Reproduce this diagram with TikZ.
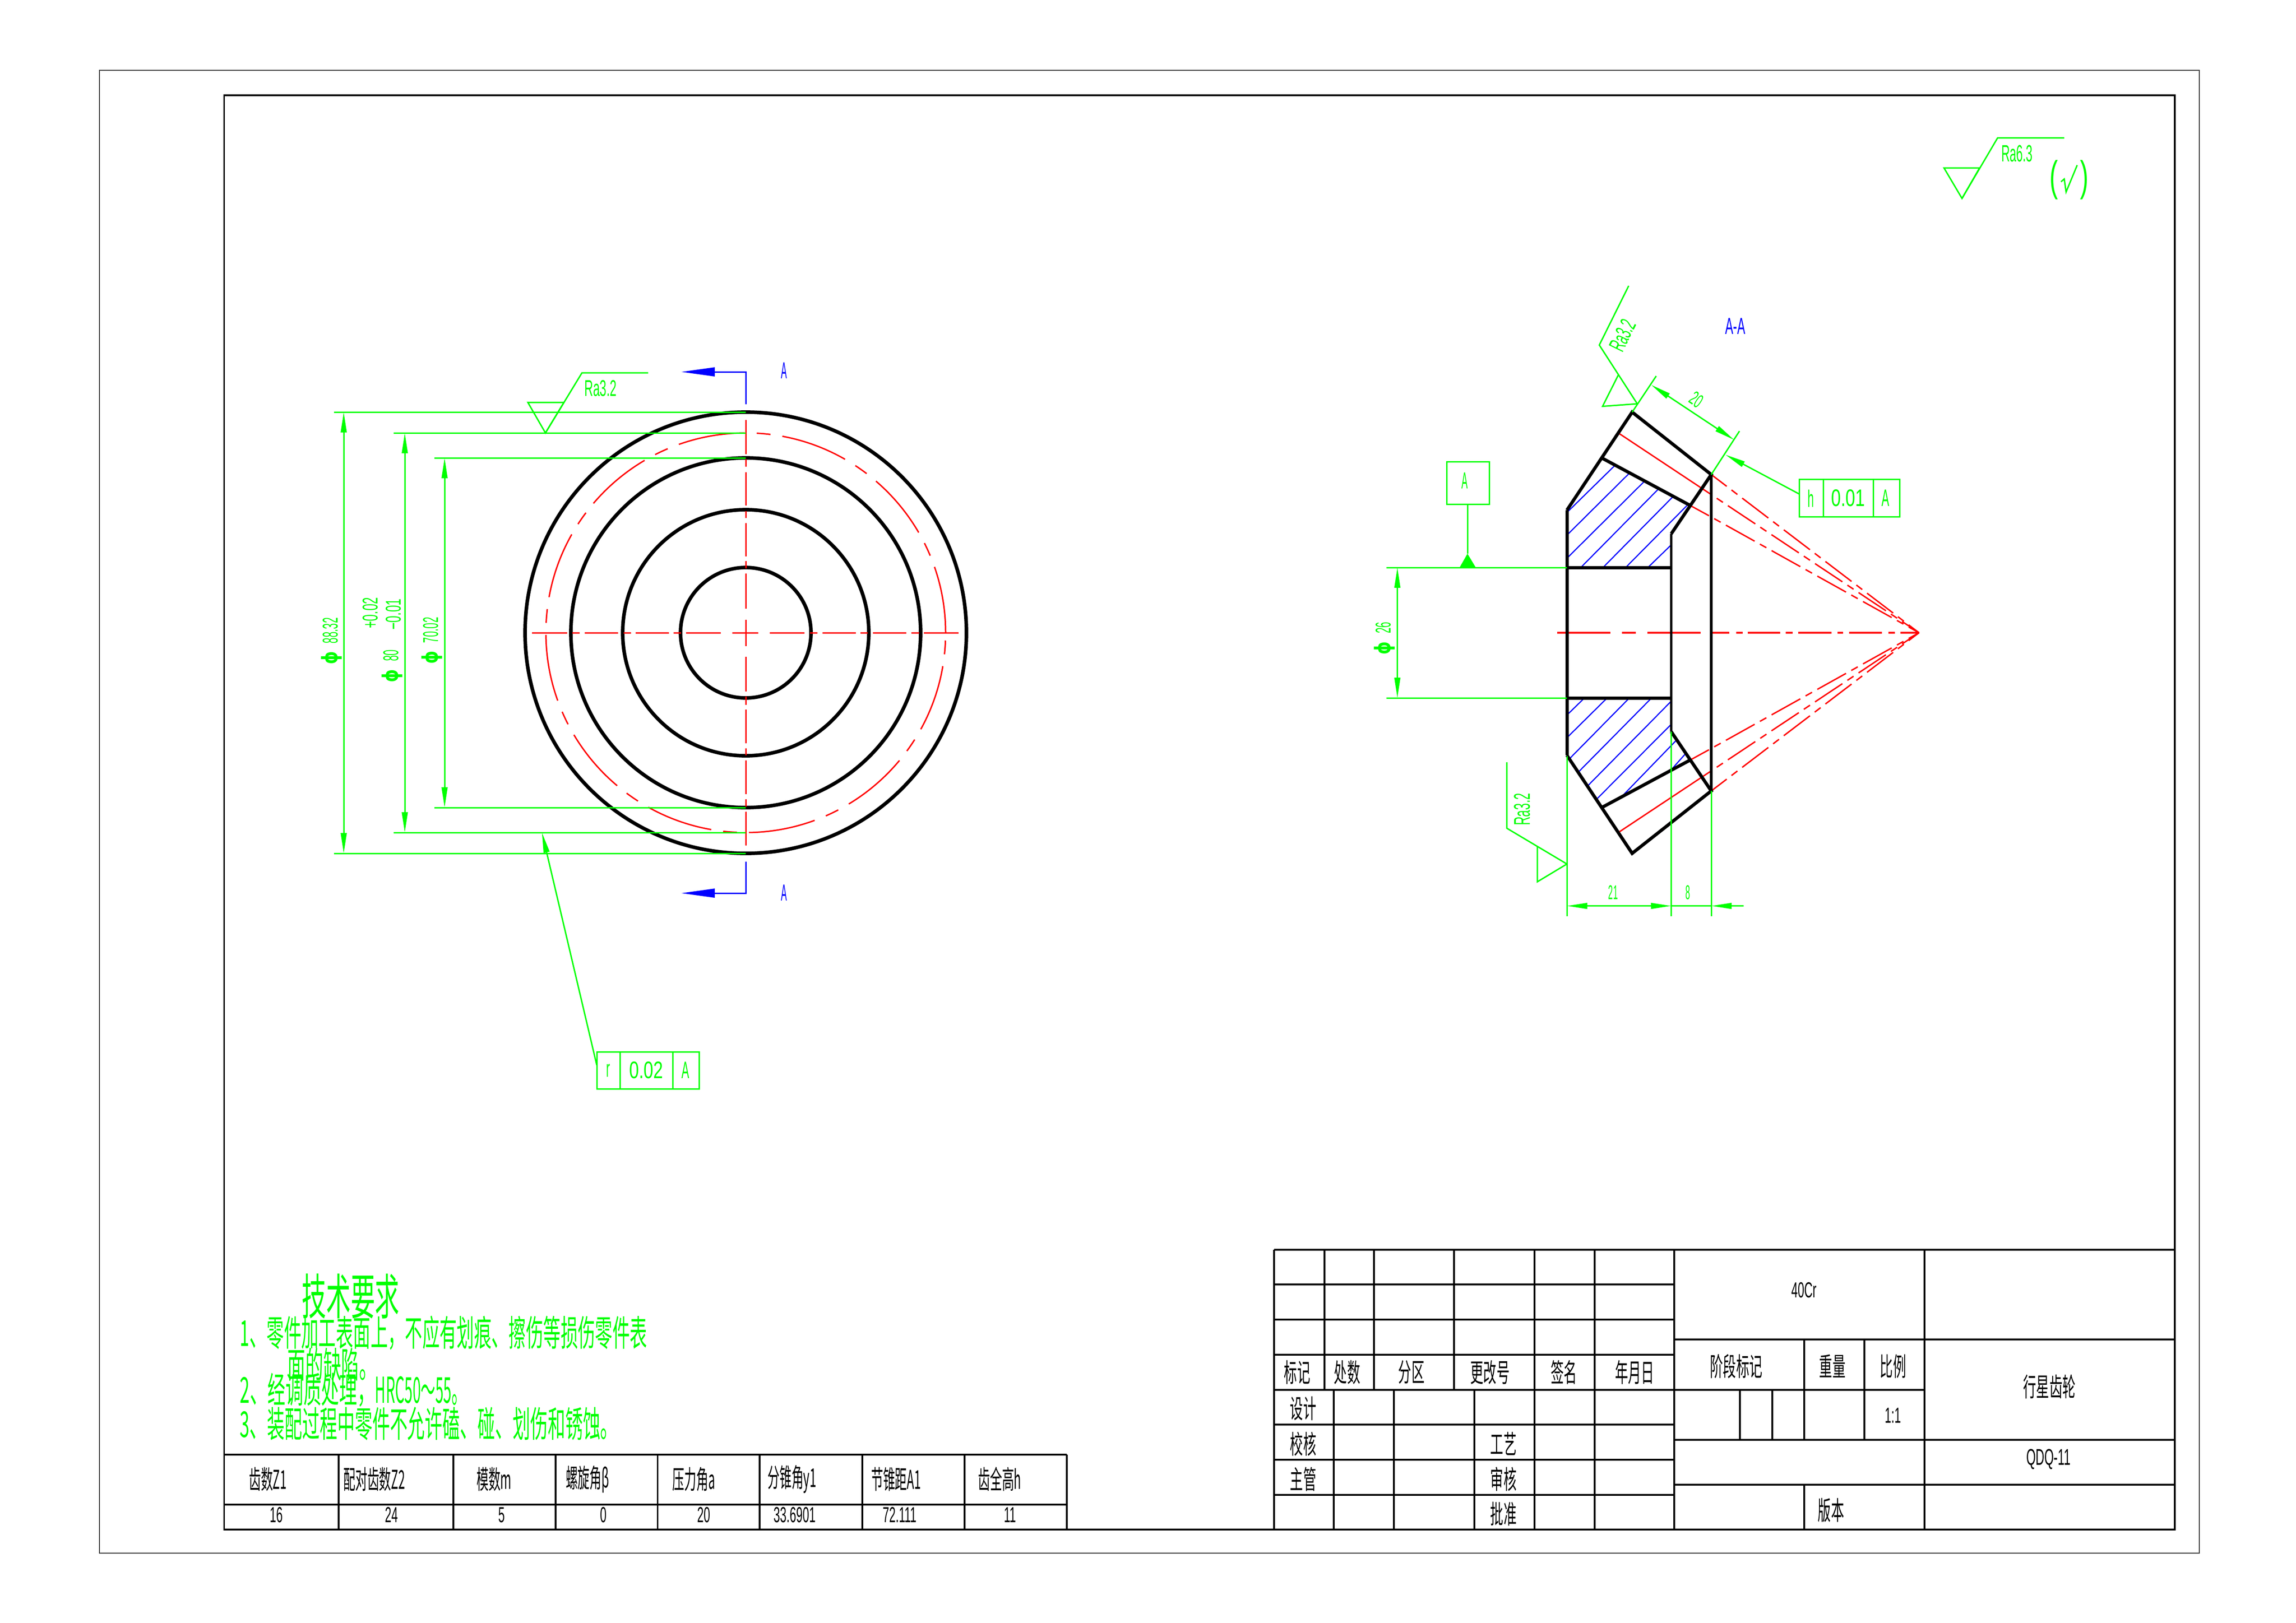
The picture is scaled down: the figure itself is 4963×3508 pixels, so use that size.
\documentclass[tikz,border=0pt]{standalone}
\usepackage{fontspec}
\usepackage{graphicx}
\setmainfont{Liberation Sans}
\newfontfamily\cjk{Noto Sans CJK SC}
\newfontfamily\dejab{DejaVu Sans}
\usetikzlibrary{arrows.meta,calc}
\newcommand\tx[3]{\scalebox{#1}[1]{\fontsize{#2}{#2}\selectfont #3}}
\newcommand\phisym{\scalebox{1.6}[1]{\dejab\bfseries ϕ}}
\definecolor{cadgreen}{RGB}{0,255,0}
\definecolor{cadred}{RGB}{255,0,0}
\definecolor{cadblue}{RGB}{0,0,255}
\tikzset{
  >={Triangle[length=12.5pt,width=3.6pt]},
  gline/.style={draw=cadgreen,line width=.85pt},
  rline/.style={draw=cadred,line width=.85pt},
  bline/.style={draw=cadblue,line width=.7pt},
  kline/.style={draw=black,line width=2pt,line join=miter},
  tline/.style={draw=black,line width=1pt},
  gt/.style={text=cadgreen,inner sep=0pt},
  kt/.style={text=black,inner sep=0pt},
  bt/.style={text=cadblue,inner sep=0pt},
  cdash/.style={dash pattern=on 41.25pt off 7.4pt on 8.5pt off 7.4pt},
  cone/.style={dash pattern=on 20.2pt off 3.7pt on 4.55pt off 3.7pt},
}
\begin{document}
\begin{tikzpicture}[x=.01cm,y=-.01cm]
\useasboundingbox (0,0) rectangle (4963,3508);
\fill[white] (0,0) rectangle (4963,3508);
% frames
\draw[draw=black!80,line width=.6pt] (215,152) rectangle (4754,3358);
\draw[tline] (484.5,206) rectangle (4701,3307);

% ---------- left view
\coordinate (C) at (1612,1368);
\foreach \r/\w in {477/2.2pt,378/2.2pt,266/2.2pt,141/2.2pt}
  \draw[draw=black,line width=\w] (C) circle[radius=\r];
\draw[rline,cdash] ($(C)+(432,0)$) arc[start angle=0,end angle=-360,radius=432];
\foreach \a/\b in {1150.4/1226,1237/1252.5,1264/1336,1348/1364,1374/1445.5,1456/1472,1482.6/1558,1583.4/1639,1664/1739,1750.5/1767,1778/1849.5,1860/1876,1887/1959,1970/1987,1997/2072}
  \draw[rline] (\a,1368) -- (\b,1368);
\foreach \a/\b in {908/982,993/1009,1021/1093,1105/1120,1130.5/1203,1213/1229,1240/1316,1340/1396.5,1420/1494.5,1506/1523.5,1534/1607,1618/1633,1644/1717,1728/1744,1755/1828}
  \draw[rline] (1612,\a) -- (1612,\b);

% dimension lines, left view
\coordinate (e1a) at (722,891); \coordinate (e1b) at (1612,891);
\coordinate (e2a) at (851,936); \coordinate (e2b) at (1612,936);
\coordinate (e3a) at (939,990); \coordinate (e3b) at (1612,990);
\coordinate (e4a) at (939,1746); \coordinate (e4b) at (1612,1746);
\coordinate (e5a) at (851,1800); \coordinate (e5b) at (1612,1800);
\coordinate (e6a) at (722,1845); \coordinate (e6b) at (1612,1845);
\foreach \n in {1,...,6} \draw[gline] (e\n a) -- (e\n b);
\draw[gline,<->] (743,891) -- (743,1845);
\draw[gline,<->] (875,936) -- (875,1800);
\draw[gline,<->] (961,990) -- (961,1746);
\node[gt,rotate=90] at (717,1386) {\tx{.48}{13.2}{\phisym\hspace{10pt}88.32}};
\node[gt,rotate=90] at (848,1440) {\tx{.48}{13.2}{\phisym\hspace{10pt}80}};
\node[gt,rotate=90] at (801,1325) {\tx{.57}{13.2}{+0.02}};
\node[gt,rotate=90] at (851,1328) {\tx{.57}{13.2}{−0.01}};
\node[gt,rotate=90] at (934,1385) {\tx{.48}{13.2}{\phisym\hspace{10pt}70.02}};

% surface mark, left view
\draw[gline] (1141,870) -- (1219,870) -- (1179,936) -- cycle;
\draw[gline] (1179,936) -- (1258,806) -- (1401,806);
\node[gt] at (1298,840) {\tx{.53}{14}{Ra3.2}};

% section arrows
\draw[draw=cadblue,line width=.85pt] (1612,874) -- (1612,804) -- (1545,804);
\fill[cadblue] (1473,804) -- (1545,794) -- (1545,814) -- cycle;
\draw[draw=cadblue,line width=.85pt] (1612,1863) -- (1612,1931) -- (1545,1931);
\fill[cadblue] (1473,1931) -- (1545,1921) -- (1545,1941) -- cycle;
\node[bt] at (1695,801) {\tx{.38}{14.3}{A}};
\node[bt] at (1695,1930) {\tx{.38}{14.3}{A}};

% runout frame
\draw[gline] (1290,2274) rectangle (1511,2354);
\draw[gline] (1340,2274) -- (1340,2354);
\draw[gline] (1454,2274) -- (1454,2354);
\draw[gline,->] (1290,2303) -- (1171.5,1800);
\node[gt] at (1315,2315) {\tx{.48}{14.7}{r}};
\node[gt] at (1397,2314) {\tx{.73}{14.7}{0.02}};
\node[gt] at (1482,2314) {\tx{.48}{14.7}{A}};

% ---------- section view
\foreach \a/\b/\c/\d in {3387/1108/3490/1007,3387/1157/3522/1023,3387/1207/3553/1042,3417/1227/3584/1058,3465/1227/3616/1074,3514/1227/3646.5/1093,3562/1227/3612.5/1178,
 3425/1509/3387/1546,3474/1509/3387/1595,3522/1509/3394/1639,3570/1509/3413/1668,3612.5/1516/3432/1699,3612.5/1566/3452/1727,3623/1601/3501/1727,3642/1631/3611/1666}
  \draw[bline] (\a,\b) -- (\c,\d);

\coordinate (apex) at (4148,1368);
\draw[rline,cone,dash phase=8.25pt] (3699,1026) -- (apex);
\draw[rline] (3501,938) -- (3700,1070);
\draw[rline,cone,dash phase=20.2pt] (3700,1070) -- (apex);
\draw[rline] (3652,1092) -- (3694,1115);
\draw[rline,cone,dash phase=20.2pt] (3694,1115) -- (apex);
\draw[rline,cone,dash phase=8.25pt] (3699,1710) -- (apex);
\draw[rline] (3501,1798) -- (3700,1666);
\draw[rline,cone,dash phase=20.2pt] (3700,1666) -- (apex);
\draw[rline] (3652,1644) -- (3694,1621);
\draw[rline,cone,dash phase=20.2pt] (3694,1621) -- (apex);
\foreach \a/\b in {3366/3481,3506/3536,3561/3675.5,3699/3738,3753/3767,3777.5/3848,3860/3874.5,3887/3959,3971.5/3984,3997/4068,4082/4096,4108/4148}
  \draw[draw=cadred,line width=1pt] (\a,1368) -- (\b,1368);

\draw[kline] (3387,1103) -- (3387,1633);
\draw[draw=black,line width=1.6pt] (3612.5,1154) -- (3612.5,1582);
\draw[draw=black,line width=1.6pt] (3699,1026) -- (3699,1710);
\draw[kline] (3387,1103) -- (3528,891) -- (3699,1026) -- (3612.5,1154);
\draw[kline] (3387,1633) -- (3528,1845) -- (3699,1710) -- (3612.5,1582);
\draw[kline] (3464,991) -- (3652,1092);
\draw[kline] (3464,1745) -- (3652,1644);
\draw[kline] (3387,1227) -- (3612.5,1227);
\draw[kline] (3387,1509) -- (3612.5,1509);

% datum
\draw[gline] (3127,998) rectangle (3219,1090);
\node[gt] at (3166,1039) {\tx{.4}{14.3}{A}};
\draw[gline] (3172,1090) -- (3172,1197);
\fill[cadgreen] (3172,1197) -- (3155,1227) -- (3190,1227) -- cycle;
\draw[gline] (2997,1227) -- (3387,1227);
\draw[gline] (2997,1509) -- (3387,1509);
\draw[gline,<->] (3020.5,1227) -- (3020.5,1509);
\node[gt,rotate=90] at (2993,1380) {\tx{.48}{13.2}{\phisym\hspace{10pt}26}};

% upper surface mark
\draw[gline] (3520.5,618) -- (3457,746) -- (3539,873);
\draw[gline] (3498,811) -- (3464,878.5) -- (3539,873);
\node[gt,rotate=64] at (3507,725) {\tx{.53}{14}{Ra3.2}};

% dimension 20
\draw[gline] (3528,891) -- (3580,813);
\draw[gline] (3699,1026) -- (3760,932);
\draw[gline,<->] (3569,832) -- (3748.5,951);
\node[gt,rotate=-34] at (3667,864) {\tx{.55}{12}{20}};

% tolerance frame
\draw[gline] (3889,1036) rectangle (4106,1117);
\draw[gline] (3941,1036) -- (3941,1117);
\draw[gline] (4049,1036) -- (4049,1117);
\draw[gline,->] (3889,1068) -- (3729.5,983);
\node[gt] at (3914,1078) {\tx{.48}{14.7}{h}};
\node[gt] at (3995,1077) {\tx{.73}{14.7}{0.01}};
\node[gt] at (4076,1077) {\tx{.48}{14.7}{A}};

\node[bt] at (3751,705) {\tx{.52}{14.3}{A-A}};

% lower surface mark
\draw[gline] (3257,1648) -- (3257,1790.6) -- (3387,1868);
\draw[gline] (3323,1830) -- (3323,1906.5) -- (3387,1868);
\node[gt,rotate=90] at (3290,1750) {\tx{.53}{14}{Ra3.2}};

% bottom dimensions
\draw[gline] (3387,1635) -- (3387,1981);
\draw[gline] (3612.5,1582) -- (3612.5,1981);
\draw[gline] (3699,1710) -- (3699,1981);
\draw[gline,<->] (3387,1958.6) -- (3612.5,1958.6);
\draw[gline,<-] (3699,1958.6) -- (3769,1958.6);
\draw[gline] (3612.5,1958.6) -- (3699,1958.6);
\node[gt] at (3487,1929.5) {\tx{.42}{12.3}{21}};
\node[gt] at (3649,1929.5) {\tx{.42}{12.3}{8}};

% top right roughness
\draw[gline] (4202,363) -- (4279,363) -- (4241,429) -- cycle;
\draw[gline] (4241,429) -- (4318,298) -- (4462,298);
\node[gt] at (4360,332) {\tx{.5}{14.5}{Ra6.3}};
\node[gt] at (4440,389) {\tx{.6}{26}{(}};
\node[gt] at (4506,389) {\tx{.6}{26}{)}};
\draw[gline] (4455,393) -- (4462,387) -- (4466,415) -- (4490,357);

% technical requirements
\node[gt] at (758,2802) {\tx{.5}{30}{\cjk 技术要求}};
\node[gt,anchor=west] at (518,2882) {\tx{.483}{22}{\cjk 1、零件加工表面上，不应有划痕、擦伤等损伤零件表}};
\node[gt,anchor=west] at (621,2950) {\tx{.5}{22}{\cjk 面的缺陷。}};
\node[gt,anchor=west] at (518,3005) {\tx{.5}{22}{\cjk 2、经调质处理，\scalebox{.82}[1]{HRC50～55。}}};
\node[gt,anchor=west] at (518,3078) {\tx{.49}{22}{\cjk 3、装配过程中零件不允许磕、碰、划伤和锈蚀。}};

% parameter table
\draw[tline] (484.5,3145) -- (2306,3145);
\draw[tline] (484.5,3253) -- (2306,3253);
\foreach \x in {732,980,1201,1421.5,1642,1864,2085,2306}
  \draw[tline] (\x,3145) -- (\x,3307);
\foreach \x/\t in {579/齿数Z1,809/配对齿数Z2,1068/模数m,1270/螺旋角β,1500/压力角a,1712/分锥角y1,1937/节锥距A1,2161/齿全高h}
  \node[kt] at (\x,3198) {\tx{.46}{16}{\cjk \t}};
\foreach \x/\t in {597/16,846/24,1084.5/5,1304/0,1521/20,1718/33.6901,1945/72.111,2183/11}
  \node[kt] at (\x,3275) {\tx{.53}{13.4}{\t}};

% title block
\foreach \y in {2702}
  \draw[tline] (2754,\y) -- (4701,\y);
\foreach \y in {2777,2853,2929,3005,3080,3156,3232}
  \draw[tline] (2754,\y) -- (3619,\y);
\draw[tline] (3619,2896) -- (4701,2896);
\draw[tline] (3619,3005) -- (4160,3005);
\draw[tline] (3619,3113) -- (4701,3113);
\draw[tline] (3619,3210) -- (4701,3210);
\foreach \x in {2863,2970,3143,3317,3447}
  \draw[tline] (\x,2702) -- (\x,3005);
\foreach \x in {2883,3013,3187,3317,3447}
  \draw[tline] (\x,3005) -- (\x,3307);
\foreach \x in {2754,3619,4160}
  \draw[tline] (\x,2702) -- (\x,3307);
\foreach \x in {3900,4030}
  \draw[tline] (\x,2896) -- (\x,3113);
\foreach \x in {3761,3831}
  \draw[tline] (\x,3005) -- (\x,3113);
\draw[tline] (3900,3210) -- (3900,3307);
\foreach \x/\y/\t in {2804/2967/标记,2912/2967/处数,3051/2967/分区,3221/2967/更改号,3380.5/2967/签名,3533.6/2967/年月日,3753/2954/阶段标记,3961/2954/重量,4092/2954/比例,4430/2998/行星齿轮,2817/3045/设计,2817/3121.5/校核,2817/3198/主管,3250/3121.5/工艺,3250/3198/审核,3250/3273/批准,3958/3265/版本}
  \node[kt] at (\x,\y) {\tx{.5}{16}{\cjk \t}};
\node[kt] at (3900,2789) {\tx{.53}{13.4}{40Cr}};
\node[kt] at (4428,3155) {\tx{.53}{14}{QDQ-11}};
\node[kt] at (4092,3060) {\tx{.53}{13.4}{1:1}};
\end{tikzpicture}
\end{document}
